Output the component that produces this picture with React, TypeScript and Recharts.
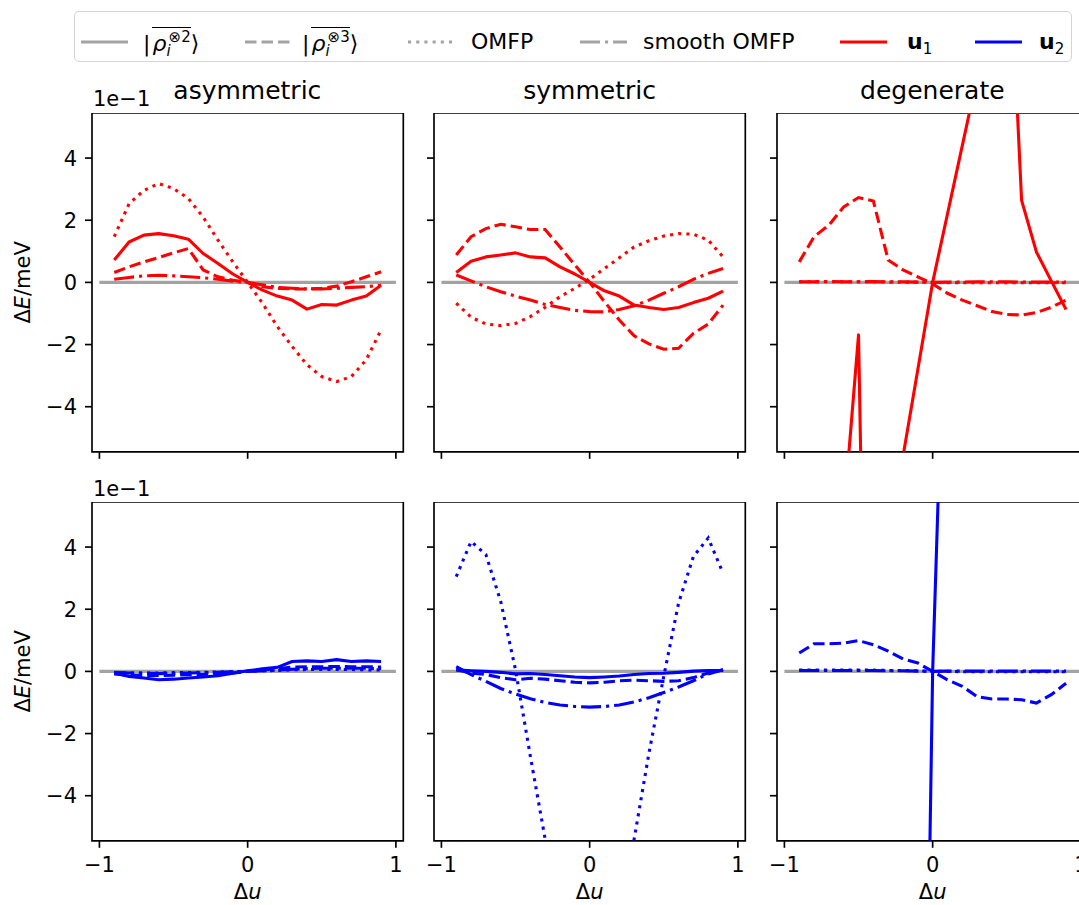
import React from "react";
import { LineChart, Line, XAxis, YAxis, ReferenceArea } from "recharts";

const FONT = "'DejaVu Sans', 'Liberation Sans', sans-serif";

// displacement samples
const du = [-0.9, -0.8, -0.7, -0.6, -0.5, -0.4, -0.3, -0.2, -0.1, 0, 0.1, 0.2, 0.3, 0.4, 0.5, 0.6, 0.7, 0.8, 0.9];
const refU = [-1, 1];

const xTicks = [-1, 0, 1];
const yTicks = [-4, -2, 0, 2, 4];

const titles = ["asymmetric", "symmetric", "degenerate"];

// ΔE in units of 1e-1 meV, direction u1 (red row)
const asymU1Rho2 = [0.72, 1.3, 1.52, 1.57, 1.5, 1.39, 0.93, 0.61, 0.27, 0, -0.25, -0.44, -0.57, -0.86, -0.71, -0.73, -0.57, -0.44, -0.09];
const asymU1Rho3 = [0.32, 0.5, 0.66, 0.8, 0.95, 1.09, 0.4, 0.18, 0.07, 0, -0.14, -0.19, -0.21, -0.21, -0.19, -0.12, 0.02, 0.18, 0.34];
const asymU1Omfp = [1.47, 2.53, 2.96, 3.18, 3.02, 2.7, 2.1, 1.36, 0.66, 0, -0.67, -1.42, -2.06, -2.65, -3.03, -3.19, -3.03, -2.49, -1.53];
const asymU1Smooth = [0.1, 0.16, 0.21, 0.23, 0.21, 0.18, 0.15, 0.1, 0.04, 0, -0.08, -0.16, -0.19, -0.21, -0.21, -0.19, -0.16, -0.14, -0.09];

const symU1Rho2 = [0.32, 0.68, 0.82, 0.88, 0.95, 0.82, 0.79, 0.5, 0.27, 0, -0.27, -0.44, -0.73, -0.81, -0.87, -0.81, -0.65, -0.51, -0.28];
const symU1Rho3 = [0.88, 1.47, 1.73, 1.87, 1.79, 1.7, 1.7, 1.14, 0.56, 0, -0.62, -1.21, -1.72, -1.98, -2.15, -2.12, -1.64, -1.34, -0.73];
const symU1Omfp = [-0.67, -1.12, -1.34, -1.39, -1.32, -1.1, -0.8, -0.46, -0.19, 0.1, 0.45, 0.79, 1.14, 1.34, 1.49, 1.57, 1.55, 1.36, 0.82];
const symU1Smooth = [0.24, 0.05, -0.14, -0.3, -0.44, -0.57, -0.71, -0.81, -0.9, -0.94, -0.95, -0.87, -0.75, -0.57, -0.35, -0.14, 0.1, 0.29, 0.45];

const degU1Rho2 = [-9, -8.5, -8, -7.5, -1.69, -28, -14, -5.6, -2.8, 0, 2.2, 4.4, 6.6, 10, 12.7, 2.64, 0.98, 0.05, -0.87];
const degU1Rho3 = [0.66, 1.47, 1.84, 2.43, 2.73, 2.62, 0.72, 0.4, 0.18, -0.05, -0.35, -0.57, -0.75, -0.94, -1.03, -1.05, -0.97, -0.8, -0.57];
const degU1Omfp = [0.02, 0.02, 0.02, 0.02, 0.02, 0.02, 0.01, 0.01, 0.01, 0, -0.01, -0.01, -0.01, -0.01, -0.01, -0.01, -0.01, -0.01, -0.01];
const degU1Smooth = [0.02, 0.02, 0.03, 0.02, 0.02, 0.03, 0.02, 0.02, 0.01, 0, 0.01, 0.01, 0.02, 0.02, 0.02, 0.01, 0.01, 0.01, 0.01];

// direction u2 (blue row)
const asymU2Rho2 = [-0.05, -0.16, -0.21, -0.27, -0.25, -0.21, -0.18, -0.14, -0.06, 0.02, 0.08, 0.13, 0.32, 0.34, 0.32, 0.38, 0.32, 0.34, 0.32];
const asymU2Rho3 = [-0.08, -0.12, -0.13, -0.13, -0.12, -0.11, -0.1, -0.08, -0.05, 0, 0.05, 0.09, 0.14, 0.15, 0.15, 0.16, 0.15, 0.15, 0.14];
const asymU2Omfp = [-0.04, -0.05, -0.05, -0.05, -0.04, -0.04, -0.03, -0.02, -0.01, 0, 0.02, 0.03, 0.05, 0.06, 0.06, 0.06, 0.06, 0.05, 0.05];
const asymU2Smooth = [-0.03, -0.05, -0.06, -0.07, -0.06, -0.05, -0.04, -0.03, -0.01, 0, 0.02, 0.04, 0.07, 0.09, 0.1, 0.1, 0.1, 0.1, 0.09];

const symU2Rho2 = [0.05, 0.02, 0, -0.03, -0.08, -0.07, -0.1, -0.14, -0.18, -0.2, -0.18, -0.15, -0.1, -0.07, -0.06, -0.03, 0.01, 0.03, 0.03];
const symU2Rho3 = [0.05, -0.05, -0.1, -0.2, -0.27, -0.22, -0.25, -0.3, -0.35, -0.37, -0.35, -0.3, -0.28, -0.3, -0.32, -0.3, -0.2, -0.05, 0.05];
const symU2Omfp = [3.05, 4.18, 3.76, 2.25, 0.05, -2.73, -5.4, -8.5, -10.5, -11, -10.5, -8.5, -5.4, -2.63, -0.16, 2.2, 3.7, 4.29, 3.16];
const symU2Smooth = [0.15, -0.1, -0.32, -0.55, -0.73, -0.88, -1.0, -1.08, -1.13, -1.15, -1.13, -1.08, -0.98, -0.85, -0.68, -0.5, -0.3, -0.08, 0.05];

const degU2Rho2 = [-300, -260, -220, -180, -150, -120, -90, -60, -30, 0, 15, 30, 45, 60, 75, 90, 105, 120, 135];
const degU2Rho3 = [0.59, 0.89, 0.89, 0.91, 0.99, 0.86, 0.65, 0.4, 0.27, 0, -0.27, -0.48, -0.81, -0.89, -0.89, -0.91, -1.02, -0.75, -0.38];
const degU2Omfp = [0.04, 0.04, 0.04, 0.04, 0.04, 0.04, 0.03, 0.03, 0.02, 0, 0, -0.01, -0.01, -0.01, -0.01, -0.01, -0.01, -0.01, -0.01];
const degU2Smooth = [0.03, 0.03, 0.03, 0.03, 0.03, 0.03, 0.02, 0.02, 0.01, 0, 0.01, 0.01, 0.01, 0.01, 0.01, 0.01, 0.01, 0.01, 0.01];

const RED = "#ff0000";
const BLUE = "#0000ff";
const GREY = "#a3a3a3";
const LW = 3.1;
const DASHED = "11.5 5";
const DOTTED = "3.1 5.1";
const DASHDOT = "20 5 3.1 5";

type Panel = { color: string; rho2: number[]; rho3: number[]; omfp: number[]; smooth: number[] };

const panels: Panel[][] = [
  [
    { color: RED, rho2: asymU1Rho2, rho3: asymU1Rho3, omfp: asymU1Omfp, smooth: asymU1Smooth },
    { color: RED, rho2: symU1Rho2, rho3: symU1Rho3, omfp: symU1Omfp, smooth: symU1Smooth },
    { color: RED, rho2: degU1Rho2, rho3: degU1Rho3, omfp: degU1Omfp, smooth: degU1Smooth },
  ],
  [
    { color: BLUE, rho2: asymU2Rho2, rho3: asymU2Rho3, omfp: asymU2Omfp, smooth: asymU2Smooth },
    { color: BLUE, rho2: symU2Rho2, rho3: symU2Rho3, omfp: symU2Omfp, smooth: symU2Smooth },
    { color: BLUE, rho2: degU2Rho2, rho3: degU2Rho3, omfp: degU2Omfp, smooth: degU2Smooth },
  ],
];

const PLOT_W = 311.3;
const PLOT_H = 338.8;
const Y_AXIS_W = 92;
const RIGHT = 6;
const COL_X = [91.7, 434, 776.7];
const ROW_Y = [112.7, 502.3];
const X_DOMAIN: [number, number] = [-1.05, 1.05];
const Y_DOMAIN: [number, number] = [-5.45, 5.45];

const fmt = (v: number) => String(v).replace("-", "\u2212");
const noLabel = () => "";
const tickStyle = { fill: "#000", fontSize: 21, fontFamily: FONT };
const toPts = (ys: number[]) => du.map((u, i) => ({ u, e: ys[i] }));
const refPts = refU.map((u) => ({ u, e: 0 }));

const YLabel = () => (
  <text
    x={30}
    y={PLOT_H / 2}
    transform={`rotate(-90 30 ${PLOT_H / 2})`}
    textAnchor="middle"
    fontSize={21}
    fontFamily={FONT}
    fill="#000"
  >
    Δ<tspan fontStyle="italic">E</tspan>/meV
  </text>
);

const XLabel = () => (
  <text x={Y_AXIS_W + PLOT_W / 2} y={PLOT_H + 58} textAnchor="middle" fontSize={21} fontFamily={FONT} fill="#000">
    Δ<tspan fontStyle="italic">u</tspan>
  </text>
);

const PanelChart = ({ row, col, p }: { row: number; col: number; p: Panel }) => {
  const bottomRow = row === 1;
  const firstCol = col === 0;
  const xh = bottomRow ? 66 : 10;
  return (
    <div style={{ position: "absolute", left: COL_X[col] - Y_AXIS_W, top: ROW_Y[row] }}>
      <LineChart
        width={Y_AXIS_W + PLOT_W + RIGHT}
        height={PLOT_H + xh}
        margin={{ top: 0, right: RIGHT, bottom: 0, left: 0 }}
      >
        <XAxis
          dataKey="u"
          type="number"
          domain={X_DOMAIN}
          ticks={xTicks}
          allowDataOverflow
          height={xh}
          axisLine={false}
          tickSize={7}
          tickMargin={9}
          tickLine={{ stroke: "#000", strokeWidth: 1.67 }}
          tick={tickStyle}
          tickFormatter={bottomRow ? fmt : noLabel}
          label={bottomRow ? <XLabel /> : undefined}
        />
        <YAxis
          dataKey="e"
          type="number"
          domain={Y_DOMAIN}
          ticks={yTicks}
          allowDataOverflow
          width={Y_AXIS_W}
          axisLine={false}
          tickSize={7}
          tickMargin={8}
          tickLine={{ stroke: "#000", strokeWidth: 1.67 }}
          tick={tickStyle}
          tickFormatter={firstCol ? fmt : noLabel}
          label={firstCol ? <YLabel /> : undefined}
        />
        <Line data={refPts} dataKey="e" stroke={GREY} strokeWidth={LW} dot={false} activeDot={false} isAnimationActive={false} />
        <Line data={toPts(p.rho2)} dataKey="e" stroke={p.color} strokeWidth={LW} strokeLinejoin="round" dot={false} activeDot={false} isAnimationActive={false} />
        <Line data={toPts(p.rho3)} dataKey="e" stroke={p.color} strokeWidth={LW} strokeDasharray={DASHED} dot={false} activeDot={false} isAnimationActive={false} />
        <Line data={toPts(p.omfp)} dataKey="e" stroke={p.color} strokeWidth={LW} strokeDasharray={DOTTED} dot={false} activeDot={false} isAnimationActive={false} />
        <Line data={toPts(p.smooth)} dataKey="e" stroke={p.color} strokeWidth={LW} strokeDasharray={DASHDOT} dot={false} activeDot={false} isAnimationActive={false} />
        <ReferenceArea
          x1={X_DOMAIN[0]}
          x2={X_DOMAIN[1]}
          y1={Y_DOMAIN[0]}
          y2={Y_DOMAIN[1]}
          fill="none"
          stroke="#000"
          strokeWidth={1.67}
          ifOverflow="visible"
        />
      </LineChart>
    </div>
  );
};

const RhoLabel = ({ n }: { n: string }) => (
  <span>
    |
    <span style={{ display: "inline-block", borderTop: "1.6px solid #000", paddingTop: 5, marginLeft: 2, lineHeight: "22px" }}>
      <i>ρ</i>
      <span style={{ fontSize: 15, position: "relative", top: 5, fontStyle: "italic" }}>i</span>
      <span style={{ fontSize: 15, position: "relative", top: -9, marginLeft: -2 }}>⊗{n}</span>
    </span>
    ⟩
  </span>
);

const ULabel = ({ n }: { n: string }) => (
  <span>
    <b>u</b>
    <span style={{ fontSize: 15, position: "relative", top: 5 }}>{n}</span>
  </span>
);

const legendItems = [
  { x: 81, tx: 143, color: GREY, dash: undefined as string | undefined, label: <RhoLabel n="2" />, lift: 4 },
  { x: 245, tx: 302, color: GREY, dash: DASHED, label: <RhoLabel n="3" />, lift: 4 },
  { x: 408, tx: 471, color: GREY, dash: DOTTED, label: <span>OMFP</span>, lift: 0 },
  { x: 580, tx: 643, color: GREY, dash: DASHDOT, label: <span>smooth OMFP</span>, lift: 0 },
  { x: 840, tx: 907, color: RED, dash: undefined, label: <ULabel n="1" />, lift: 0 },
  { x: 975, tx: 1039, color: BLUE, dash: undefined, label: <ULabel n="2" />, lift: 0 },
];

const Legend = () => (
  <>
    <div
      style={{
        position: "absolute",
        left: 74,
        top: 11,
        width: 998,
        height: 51,
        boxSizing: "border-box",
        border: "1.5px solid #d4d4d4",
        borderRadius: 5,
        background: "#fff",
      }}
    />
    {legendItems.map((it, i) => (
      <React.Fragment key={i}>
        <svg style={{ position: "absolute", left: it.x, top: 39 }} width={47} height={6}>
          <line x1={0} y1={3} x2={47} y2={3} stroke={it.color} strokeWidth={LW} strokeDasharray={it.dash} />
        </svg>
        <div
          style={{
            position: "absolute",
            left: it.tx,
            top: 31.4 - it.lift,
            fontSize: 22,
            lineHeight: "22px",
            fontFamily: FONT,
            whiteSpace: "nowrap",
            color: "#000",
          }}
        >
          {it.label}
        </div>
      </React.Fragment>
    ))}
  </>
);

const App = () => {
  return (
    <div
      style={{
        position: "fixed",
        left: 0,
        top: 0,
        width: 1079,
        height: 905,
        overflow: "hidden",
        background: "#fff",
        fontFamily: FONT,
      }}
    >
      <Legend />
      {panels.map((rowPanels, r) =>
        rowPanels.map((p, c) => <PanelChart key={`${r}-${c}`} row={r} col={c} p={p} />)
      )}
      <svg style={{ position: "absolute", left: 0, top: 0, pointerEvents: "none" }} width={1079} height={905}>
        {titles.map((t, c) => (
          <text key={t} x={COL_X[c] + PLOT_W / 2} y={99} textAnchor="middle" fontSize={25} fontFamily={FONT} fill="#000">
            {t}
          </text>
        ))}
        <text x={93} y={106} fontSize={21} fontFamily={FONT} fill="#000">1e−1</text>
        <text x={93} y={496} fontSize={21} fontFamily={FONT} fill="#000">1e−1</text>
      </svg>
    </div>
  );
};

export default App;
